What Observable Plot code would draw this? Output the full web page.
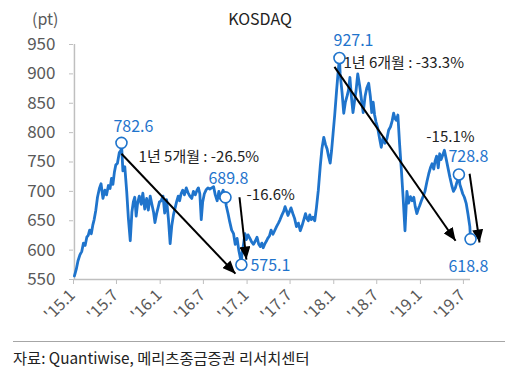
<!DOCTYPE html>
<html><head><meta charset="utf-8">
<script src="https://cdn.jsdelivr.net/npm/d3@7"></script>
<script src="https://cdn.jsdelivr.net/npm/@observablehq/plot@0.6"></script>
<style>
body{margin:0;background:#fff;font-family:"Noto Sans CJK KR","Noto Sans",sans-serif;width:520px;height:379px;overflow:hidden}
#head{position:relative;height:30px}
#title{position:absolute;left:0;right:0;top:8px;text-align:center;font-size:16px;color:#222;line-height:20px}
#unit{position:absolute;left:32px;top:7px;font-size:16px;color:#595959;line-height:22px}
#src{margin:6px 15px 0 13px;border-top:1px solid #a6a6a6;padding-top:4px;font-size:15.3px;color:#222}
</style></head><body>
<div id="head"><span id="unit">(pt)</span><div id="title">KOSDAQ</div></div>
<div id="chart"></div>
<div id="src">자료: Quantiwise, 메리츠종금증권 리서치센터</div>
<script>
// weekly-ish KOSDAQ closes, grouped by month (Jan..Dec)
const y2015 = [
  [556, 568, 582, 592], [598, 612, 608, 622], [625, 634, 628, 642, 652],
  [668, 690, 705, 713], [688, 702, 694, 710], [705, 722, 712, 732, 745],
  [748, 766, 770, 735], [742, 700, 655, 616], [665, 682, 690, 658, 680],
  [692, 678, 697, 670], [688, 668, 692, 678], [665, 647, 662, 672, 682]
];
const y2016 = [
  [684, 692, 663, 686], [652, 611, 642, 660], [672, 682, 692, 684, 696],
  [702, 694, 706, 698], [692, 688, 700, 694], [702, 706, 696, 652, 682],
  [696, 703, 706, 704], [706, 708, 694, 684], [700, 688, 696, 702, 694],
  [676, 662, 648, 634], [628, 610, 620, 600], [586, 592, 610, 628, 618]
];
const y2017 = [
  [626, 620, 614, 610], [616, 622, 610, 606], [612, 604, 611, 615, 620],
  [624, 634, 627, 633], [640, 646, 652, 660], [666, 674, 667, 659, 665],
  [672, 662, 654, 640], [646, 633, 641, 652], [662, 654, 650, 660, 652],
  [656, 650, 672, 702], [742, 772, 792, 780], [772, 760, 748, 770, 798]
];
const y2018 = [
  [830, 872, 906, 900], [868, 833, 852, 862], [872, 894, 858, 834, 852],
  [872, 900, 880, 858], [834, 862, 876, 884], [862, 834, 852, 830, 818],
  [808, 790, 775, 792], [782, 790, 804, 810], [820, 833, 824, 821, 830],
  [782, 735, 690, 633], [700, 680, 691, 684], [690, 674, 662, 670, 676]
];
const y2019 = [
  [684, 692, 700, 716], [730, 740, 747, 738], [752, 760, 740, 764, 754],
  [762, 770, 754, 740], [724, 710, 700, 706], [716, 722, 712, 704, 696],
  [690, 679, 662, 640]
];
// highlighted points
const keyDates  = ["2015-07-22", "2016-10-02", "2016-12-08", "2018-01-25", "2019-06-12", "2019-07-31"];
const keyValues = [782.6, 689.8, 575.1, 927.1, 728.8, 618.8];
const keyLabelDates  = ["2015-06-18", "2016-07-22", "2017-01-15", "2017-12-31", "2019-04-29", "2019-04-29"];
const keyLabelValues = [809, 722, 574, 957, 758, 572];
// arrows (start -> tip)
const arrowFromDates = ["2015-07-22", "2016-11-30", "2018-01-04", "2019-07-27"];
const arrowFromValues = [764, 690, 912, 730];
const arrowToDates = ["2016-11-13", "2016-12-29", "2019-05-29", "2019-09-07"];
const arrowToValues = [560, 584, 616, 613];
// notes
const noteTexts = ["1년 5개월 : -26.5%", "-16.6%", "1년 6개월 : -33.3%", "-15.1%"];
const noteDates = ["2015-10-02", "2016-12-30", "2018-02-11", "2019-01-26"];
const noteValues = [758, 693, 918, 792];
// axes
const yTicks = [550, 600, 650, 700, 750, 800, 850, 900, 950];
const xTickDates = ["2015-01-01","2015-07-01","2016-01-01","2016-07-01","2017-01-01","2017-07-01","2018-01-01","2018-07-01","2019-01-01","2019-07-01"];
const xTickLabels = ["'15.1","'15.7","'16.1","'16.7","'17.1","'17.7","'18.1","'18.7","'19.1","'19.7"];

const parse = d3.timeParse("%Y-%m-%d");
function expand(year, months) {
  return months.flatMap((vals, m) => {
    const dim = new Date(year, m + 1, 0).getDate();
    return vals.map((v, k) => ({date: new Date(year, m, 1 + Math.round((k + 0.5) * dim / vals.length)), value: v}));
  });
}
const keyPts = keyDates.map((d, i) => ({date: parse(d), value: keyValues[i]}));
const series = [
  ...expand(2015, y2015), ...expand(2016, y2016), ...expand(2017, y2017),
  ...expand(2018, y2018), ...expand(2019, y2019), ...keyPts
].sort((a, b) => a.date - b.date);
const keyLabels = keyValues.map((v, i) => ({date: parse(keyLabelDates[i]), value: keyLabelValues[i], text: v.toFixed(1)}));
const arrows = arrowFromDates.map((d, i) => ({x1: parse(d), y1: arrowFromValues[i], x2: parse(arrowToDates[i]), y2: arrowToValues[i]}));
const notes = noteTexts.map((t, i) => ({date: parse(noteDates[i]), value: noteValues[i], text: t}));
const xTicks = xTickDates.map(parse);
const xLabels = xTicks.map((d, i) => ({date: d, text: xTickLabels[i]}));
const first = series[0].date, last = series[series.length - 1].date;

const blue = "#1f74cc";
const font = '"Noto Sans CJK KR","Noto Sans",sans-serif';
const chart = Plot.plot({
  width: 520, height: 305,
  marginLeft: 73, marginRight: 35, marginTop: 14, marginBottom: 56,
  x: {type: "time", domain: [new Date(2015, 0, 1), new Date(2019, 9, 2)]},
  y: {domain: [550, 950]},
  style: {fontFamily: font, background: "white", overflow: "visible"},
  marks: [
    Plot.axisY({ticks: yTicks, tickSize: 4, tickPadding: 14, fontSize: 17, label: null, stroke: "#bfbfbf", fill: "#595959"}),
    Plot.axisX({ticks: xTicks, tickFormat: () => "", tickSize: 5, label: null, stroke: "#bfbfbf"}),
    Plot.text(xLabels, {x: "date", y: () => 550, text: "text", rotate: -45, textAnchor: "end", dx: -1, dy: 13, fontSize: 16, fill: "#595959"}),
    Plot.ruleX([first], {y1: 550, y2: 950, stroke: "#bfbfbf", strokeWidth: 1.5}),
    Plot.ruleY([550], {x1: first, x2: last, stroke: "#bfbfbf", strokeWidth: 1.5}),
    Plot.line(series, {x: "date", y: "value", stroke: blue, strokeWidth: 2.8, strokeLinejoin: "round"}),
    Plot.link(arrows, {x1: "x1", y1: "y1", x2: "x2", y2: "y2", stroke: "black", strokeWidth: 2}),
    Plot.dot(keyPts, {x: "date", y: "value", r: 5.5, fill: "white", stroke: blue, strokeWidth: 1.6}),
    Plot.text(keyLabels, {x: "date", y: "value", text: "text", textAnchor: "start", fill: blue, fontSize: 16}),
    Plot.text(notes, {x: "date", y: "value", text: "text", textAnchor: "start", fill: "#222", fontSize: 15})
  ]
});
// filled arrowheads
const ns = "http://www.w3.org/2000/svg";
const defs = document.createElementNS(ns, "defs");
const mk = document.createElementNS(ns, "marker");
mk.setAttribute("id", "ahead");
mk.setAttribute("viewBox", "0 0 13 11");
mk.setAttribute("refX", "13"); mk.setAttribute("refY", "5.5");
mk.setAttribute("markerWidth", "13"); mk.setAttribute("markerHeight", "11");
mk.setAttribute("markerUnits", "userSpaceOnUse"); mk.setAttribute("orient", "auto");
const mp = document.createElementNS(ns, "path");
mp.setAttribute("d", "M0,0L13,5.5L0,11Z"); mp.setAttribute("fill", "black");
mk.appendChild(mp); defs.appendChild(mk); chart.insertBefore(defs, chart.firstChild);
chart.querySelectorAll('g[aria-label="link"] path').forEach(p => p.setAttribute("marker-end", "url(#ahead)"));
document.getElementById("chart").appendChild(chart);
</script>
</body></html>
